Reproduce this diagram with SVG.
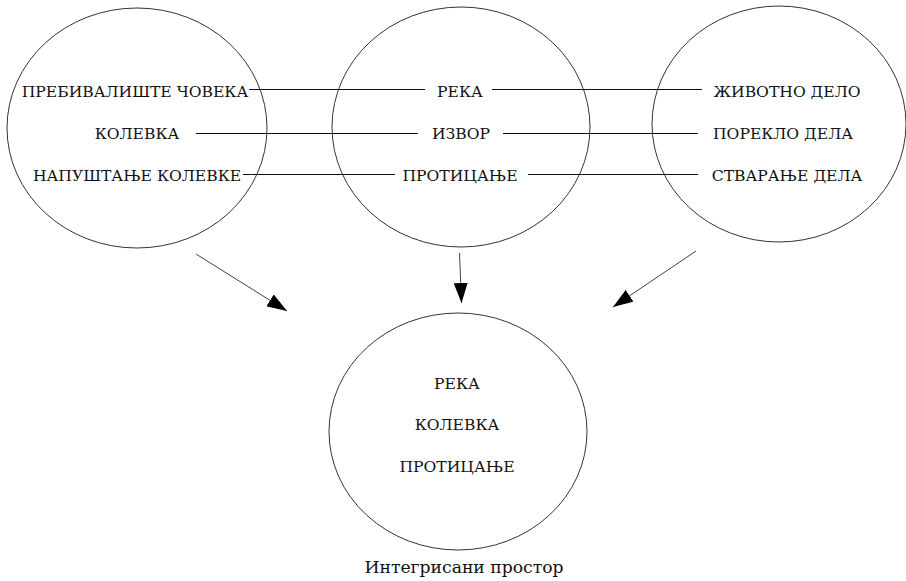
<svg xmlns="http://www.w3.org/2000/svg" width="906" height="581" viewBox="0 0 906 581">
<style>
.node ellipse{fill:none;stroke:#333;stroke-width:1}
text{font-family:'DejaVu Serif','Liberation Serif',serif;font-size:15.6px;fill:#111;text-anchor:middle}
.edge line{stroke:#111;stroke-width:1}
.arr line{stroke:#444;stroke-width:1}
</style>
<defs>
<marker id="ah" viewBox="0 0 20 14" refX="20" refY="7" markerWidth="20" markerHeight="14" markerUnits="userSpaceOnUse" orient="auto">
<path d="M0,0 L20,7 L0,14 Z" fill="#000"/>
</marker>
</defs>
<g id="connectors">
<g class="edge">
<line x1="249" y1="89.5" x2="425" y2="89.5"/>
<line x1="196" y1="133.5" x2="418" y2="133.5"/>
<line x1="243" y1="174.5" x2="395" y2="174.5"/>
<line x1="492" y1="89.5" x2="702" y2="89.5"/>
<line x1="503" y1="133.5" x2="698" y2="133.5"/>
<line x1="528" y1="174.5" x2="698" y2="174.5"/>
</g>
<g class="arr">
<line x1="196" y1="254" x2="287" y2="311" marker-end="url(#ah)"/>
<line x1="459.5" y1="253" x2="461.5" y2="303" marker-end="url(#ah)"/>
<line x1="696" y1="251" x2="613" y2="307" marker-end="url(#ah)"/>
</g>
</g>
<g id="node-left" class="node">
<ellipse cx="137" cy="128" rx="130" ry="120"/>
<text x="135" y="97">ПРЕБИВАЛИШТЕ ЧОВЕКА</text>
<text x="137" y="139">КОЛЕВКА</text>
<text x="137" y="181">НАПУШТАЊЕ КОЛЕВКЕ</text>
</g>
<g id="node-middle" class="node">
<ellipse cx="461" cy="127" rx="129" ry="120"/>
<text x="460" y="97">РЕКА</text>
<text x="461" y="139">ИЗВОР</text>
<text x="460" y="181">ПРОТИЦАЊЕ</text>
</g>
<g id="node-right" class="node">
<ellipse cx="779" cy="124" rx="127" ry="118"/>
<text x="787" y="97">ЖИВОТНО ДЕЛО</text>
<text x="783" y="139">ПОРЕКЛО ДЕЛА</text>
<text x="787" y="181">СТВАРАЊЕ ДЕЛА</text>
</g>
<g id="node-bottom" class="node">
<ellipse cx="458" cy="431.5" rx="129" ry="118.5"/>
<text x="457" y="389">РЕКА</text>
<text x="457" y="430">КОЛЕВКА</text>
<text x="457" y="472">ПРОТИЦАЊЕ</text>
</g>
<text id="caption" x="464" y="573" style="font-size:17.2px">Интегрисани простор</text>
</svg>
